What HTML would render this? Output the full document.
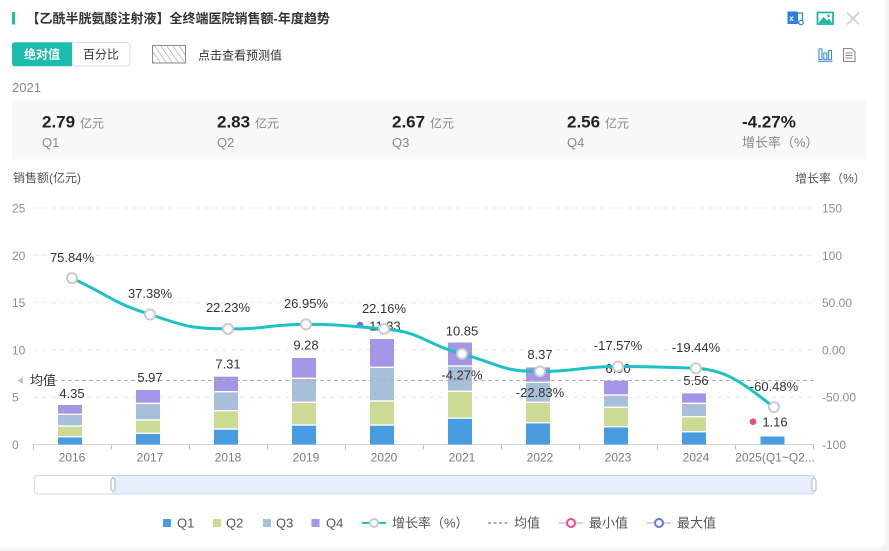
<!DOCTYPE html>
<html><head><meta charset="utf-8"><style>
html,body{margin:0;padding:0;background:#f4f4f5;}
svg{display:block;}
text{font-family:"Liberation Sans","Noto Sans CJK SC",sans-serif;}
</style></head><body>
<svg width="889" height="551" viewBox="0 0 889 551" xmlns="http://www.w3.org/2000/svg">
<defs>
<pattern id="hatch" width="5" height="5" patternUnits="userSpaceOnUse" patternTransform="rotate(-35)">
<line x1="0" y1="0" x2="0" y2="5" stroke="#999" stroke-width="1.2"/>
</pattern>
</defs>
<rect x="0" y="0" width="889" height="551" fill="#f4f4f5"/>
<path d="M0,0 H885 V540 Q885,548 877,548 H0 Z" fill="#fff"/>

<!-- header -->
<rect x="12" y="12" width="3.2" height="12.5" fill="#1ebcad"/>
<text x="26.5" y="23" font-size="13" font-weight="bold" fill="#333">【乙酰半胱氨酸注射液】全终端医院销售额-年度趋势</text>

<!-- top right icons -->
<rect x="787.5" y="11.5" width="10" height="12.5" fill="#2f7fd8"/>
<text x="789.2" y="21" font-size="8" font-weight="bold" fill="#fff">x</text>
<rect x="797.5" y="13" width="5" height="10" fill="none" stroke="#2f7fd8" stroke-width="1.2"/>
<circle cx="801" cy="22.5" r="2.2" fill="#fff" stroke="#2f7fd8" stroke-width="1.2"/>
<rect x="817.5" y="12.5" width="15.5" height="11.5" fill="#fff" stroke="#1cb7a9" stroke-width="1.8"/>
<polygon points="818.5,23 823.5,17 827,20.5 829,18.5 832,23" fill="#1cb7a9"/>
<circle cx="828.5" cy="15.8" r="1.3" fill="#1cb7a9"/>
<line x1="847" y1="12.5" x2="859" y2="24.5" stroke="#cfcfcf" stroke-width="1.6"/>
<line x1="859" y1="12.5" x2="847" y2="24.5" stroke="#cfcfcf" stroke-width="1.6"/>

<rect x="819" y="49" width="3" height="10.5" fill="none" stroke="#3b8fe4" stroke-width="1.1"/>
<rect x="823.8" y="53" width="3" height="6.5" fill="none" stroke="#3b8fe4" stroke-width="1.1"/>
<rect x="828.5" y="50.5" width="3" height="9" fill="none" stroke="#3b8fe4" stroke-width="1.1"/>
<line x1="818" y1="61.3" x2="832.5" y2="61.3" stroke="#3b8fe4" stroke-width="1.1"/>
<path d="M843.5,48.5 H851.5 L855,52 V61.5 H843.5 Z" fill="none" stroke="#888" stroke-width="1.1"/>
<line x1="845.5" y1="53" x2="852.5" y2="53" stroke="#888" stroke-width="1"/>
<line x1="845.5" y1="55.5" x2="852.5" y2="55.5" stroke="#888" stroke-width="1"/>
<line x1="845.5" y1="58" x2="852.5" y2="58" stroke="#888" stroke-width="1"/>

<!-- toggle buttons -->
<rect x="72" y="42.5" width="58" height="23.5" rx="3" fill="#fff" stroke="#dcdcdc" stroke-width="1"/>
<path d="M15,42.3 H72 V66.2 H15 Q12,66.2 12,63.2 V45.3 Q12,42.3 15,42.3 Z" fill="#1ebcad"/>
<text x="42" y="58.5" font-size="12" font-weight="bold" fill="#fff" text-anchor="middle">绝对值</text>
<text x="101" y="58.5" font-size="12" fill="#333" text-anchor="middle">百分比</text>
<rect x="152.5" y="45.5" width="33" height="17.5" fill="url(#hatch)" stroke="#8a8a8a" stroke-width="1"/>
<text x="198" y="59.5" font-size="12" fill="#333">点击查看预测值</text>

<text x="12" y="92" font-size="13" fill="#888">2021</text>

<!-- summary box -->
<rect x="12" y="100" width="854" height="59.5" fill="#f8f8f8"/>
<g font-size="17" font-weight="bold" fill="#222">
<text x="42" y="127.5">2.79</text>
<text x="217" y="127.5">2.83</text>
<text x="392" y="127.5">2.67</text>
<text x="567" y="127.5">2.56</text>
<text x="742" y="127.5">-4.27%</text>
</g>
<g font-size="12" fill="#888">
<text x="80" y="127.5">亿元</text>
<text x="255" y="127.5">亿元</text>
<text x="430" y="127.5">亿元</text>
<text x="605" y="127.5">亿元</text>
</g>
<g font-size="13" fill="#888">
<text x="42" y="147">Q1</text>
<text x="217" y="147">Q2</text>
<text x="392" y="147">Q3</text>
<text x="567" y="147">Q4</text>
<text x="742" y="147">增长率（%）</text>
</g>

<!-- axis names -->
<text x="13" y="182" font-size="12" fill="#555">销售额(亿元)</text>
<text x="795" y="182.5" font-size="12" fill="#555">增长率（%）</text>

<!-- grid -->
<g stroke="#e3e9ee" stroke-width="1" stroke-dasharray="5,4">
<line x1="33" y1="208" x2="813" y2="208"/>
<line x1="33" y1="255.3" x2="813" y2="255.3"/>
<line x1="33" y1="302.6" x2="813" y2="302.6"/>
<line x1="33" y1="349.9" x2="813" y2="349.9"/>
<line x1="33" y1="397.2" x2="813" y2="397.2"/>
</g>
<g font-size="12" fill="#8e8e8e">
<text x="12" y="212.5">25</text>
<text x="12" y="259.8">20</text>
<text x="12" y="307">15</text>
<text x="12" y="354.3">10</text>
<text x="12" y="401.6">5</text>
<text x="12" y="449">0</text>
<text x="822" y="212.5">150</text>
<text x="822" y="259.8">100</text>
<text x="822" y="307">50.00</text>
<text x="822" y="354.3">0.00</text>
<text x="822" y="401.6">-50.00</text>
<text x="822" y="449">-100</text>
</g>

<!-- x axis -->
<line x1="33" y1="444.5" x2="813" y2="444.5" stroke="#cfd6dc" stroke-width="1"/>
<g stroke="#b8c0c8" stroke-width="1">
<line x1="33.5" y1="444.5" x2="33.5" y2="449.5"/><line x1="111.5" y1="444.5" x2="111.5" y2="449.5"/>
<line x1="189.5" y1="444.5" x2="189.5" y2="449.5"/><line x1="267.5" y1="444.5" x2="267.5" y2="449.5"/>
<line x1="345.5" y1="444.5" x2="345.5" y2="449.5"/><line x1="423.5" y1="444.5" x2="423.5" y2="449.5"/>
<line x1="501.5" y1="444.5" x2="501.5" y2="449.5"/><line x1="579.5" y1="444.5" x2="579.5" y2="449.5"/>
<line x1="657.5" y1="444.5" x2="657.5" y2="449.5"/><line x1="735.5" y1="444.5" x2="735.5" y2="449.5"/>
<line x1="813.5" y1="444.5" x2="813.5" y2="449.5"/>
</g>
<g font-size="12" fill="#7a7a7a" text-anchor="middle">
<text x="72" y="461.5">2016</text><text x="150" y="461.5">2017</text><text x="228" y="461.5">2018</text>
<text x="306" y="461.5">2019</text><text x="384" y="461.5">2020</text><text x="462" y="461.5">2021</text>
<text x="540" y="461.5">2022</text><text x="618" y="461.5">2023</text><text x="696" y="461.5">2024</text>
<text x="775" y="461.5">2025(Q1~Q2...</text>
</g>

<!-- bars -->
<g>
<rect x="58" y="437.4" width="24" height="7.1" fill="#4a9ce0"/>
<rect x="58" y="426.7" width="24" height="9.3" fill="#cdda94"/>
<rect x="58" y="415" width="24" height="10.3" fill="#a7bfd9"/>
<rect x="58" y="405" width="24" height="8.6" fill="#a595e6"/>
<rect x="136" y="434" width="24" height="10.5" fill="#4a9ce0"/>
<rect x="136" y="420.7" width="24" height="11.9" fill="#cdda94"/>
<rect x="136" y="404" width="24" height="15.3" fill="#a7bfd9"/>
<rect x="136" y="390" width="24" height="12.6" fill="#a595e6"/>
<rect x="214" y="429.7" width="24" height="14.8" fill="#4a9ce0"/>
<rect x="214" y="411.4" width="24" height="16.9" fill="#cdda94"/>
<rect x="214" y="392.4" width="24" height="17.6" fill="#a7bfd9"/>
<rect x="214" y="376.7" width="24" height="14.3" fill="#a595e6"/>
<rect x="292" y="425.7" width="24" height="18.8" fill="#4a9ce0"/>
<rect x="292" y="403" width="24" height="21.3" fill="#cdda94"/>
<rect x="292" y="379" width="24" height="22.6" fill="#a7bfd9"/>
<rect x="292" y="358" width="24" height="19.6" fill="#a595e6"/>
<rect x="370" y="425.7" width="24" height="18.8" fill="#4a9ce0"/>
<rect x="370" y="401.7" width="24" height="22.6" fill="#cdda94"/>
<rect x="370" y="368" width="24" height="32.3" fill="#a7bfd9"/>
<rect x="370" y="339" width="24" height="27.6" fill="#a595e6"/>
<rect x="448" y="418.8" width="24" height="25.7" fill="#4a9ce0"/>
<rect x="448" y="392" width="24" height="25.4" fill="#cdda94"/>
<rect x="448" y="366.7" width="24" height="23.9" fill="#a7bfd9"/>
<rect x="448" y="342.5" width="24" height="22.8" fill="#a595e6"/>
<rect x="526" y="423.4" width="24" height="21.1" fill="#4a9ce0"/>
<rect x="526" y="403" width="24" height="19" fill="#cdda94"/>
<rect x="526" y="383" width="24" height="18.6" fill="#a7bfd9"/>
<rect x="526" y="367.4" width="24" height="14.2" fill="#a595e6"/>
<rect x="604" y="427.4" width="24" height="17.1" fill="#4a9ce0"/>
<rect x="604" y="408" width="24" height="18" fill="#cdda94"/>
<rect x="604" y="395.7" width="24" height="10.9" fill="#a7bfd9"/>
<rect x="604" y="380.7" width="24" height="13.6" fill="#a595e6"/>
<rect x="682" y="432.4" width="24" height="12.1" fill="#4a9ce0"/>
<rect x="682" y="417.4" width="24" height="13.6" fill="#cdda94"/>
<rect x="682" y="404" width="24" height="12" fill="#a7bfd9"/>
<rect x="682" y="393.4" width="24" height="9.2" fill="#a595e6"/>
<rect x="760.5" y="436.5" width="24" height="8" fill="#4a9ce0"/>
</g>

<!-- average line -->
<line x1="33" y1="380.5" x2="813" y2="380.5" stroke="#b0b0b0" stroke-width="1" stroke-dasharray="4,3"/>
<polygon points="17,380.5 23,377.3 23,383.7" fill="#c4c4c4"/>
<text x="30" y="385" font-size="13" fill="#333">均值</text>

<!-- bar total labels -->
<g font-size="13" fill="#333" text-anchor="middle">
<text x="72" y="398">4.35</text>
<text x="150" y="382">5.97</text>
<text x="228" y="368.5">7.31</text>
<text x="306" y="349.5">9.28</text>
<text x="385" y="330.5">11.33</text>
<text x="462" y="335.5">10.85</text>
<text x="540" y="359">8.37</text>
<text x="618" y="373">6.90</text>
<text x="696" y="385">5.56</text>
<text x="775" y="426.5">1.16</text>
</g>
<circle cx="360" cy="325" r="3.3" fill="#6b71ea"/>
<circle cx="753" cy="421.7" r="3.3" fill="#f0468a"/>

<!-- growth line -->
<path d="M72,278.1 C111,296.3 109.4,301.3 150,314.5 C187.4,326.7 189,328.5 228,328.9 C267,329.3 267,324.4 306,324.4 C345,324.4 345,326 384,328.9 C424,332.5 422.5,343.1 462,353.9 C500.5,364.4 500.5,371.5 540,371.5 C578.5,371.5 579,366.5 618,366.5 C657,366.5 657,366.8 696,368.3 C730,370 748,388 774,407.1" fill="none" stroke="#1fc2c2" stroke-width="3"/>
<g fill="#fff" stroke="#cbcbcb" stroke-width="2">
<circle cx="72" cy="278.1" r="5"/><circle cx="150" cy="314.5" r="5"/><circle cx="228" cy="328.9" r="5"/>
<circle cx="306" cy="324.4" r="5"/><circle cx="384" cy="328.9" r="5"/><circle cx="462" cy="353.9" r="5"/>
<circle cx="540" cy="371.5" r="5"/><circle cx="618" cy="366.5" r="5"/><circle cx="696" cy="368.3" r="5"/>
<circle cx="774" cy="407.1" r="5"/>
</g>

<!-- growth labels -->
<g font-size="13" fill="#333" text-anchor="middle">
<text x="72" y="261.8">75.84%</text>
<text x="150" y="297.8">37.38%</text>
<text x="228" y="312.2">22.23%</text>
<text x="306" y="307.8">26.95%</text>
<text x="384" y="312.8">22.16%</text>
<text x="462" y="379.5">-4.27%</text>
<text x="540" y="396.8">-22.83%</text>
<text x="618" y="350.2">-17.57%</text>
<text x="696" y="352.2">-19.44%</text>
<text x="774" y="391.2">-60.48%</text>
</g>

<!-- data zoom slider -->
<rect x="113" y="475.5" width="701.5" height="18.5" fill="#e6edfb"/>
<rect x="34.5" y="475.5" width="780" height="18.5" rx="3" fill="none" stroke="#d0d8ea" stroke-width="1"/>
<line x1="113" y1="475.5" x2="113" y2="494" stroke="#c9d2e6" stroke-width="1"/>
<rect x="111" y="478.5" width="4" height="12.5" rx="2" fill="#fff" stroke="#a9b4cc" stroke-width="1"/>
<rect x="812" y="478.5" width="4" height="12.5" rx="2" fill="#fff" stroke="#a9b4cc" stroke-width="1"/>

<!-- legend -->
<g font-size="13" fill="#555">
<rect x="163" y="519" width="8" height="8" fill="#4a9ce0"/><text x="177" y="527.5">Q1</text>
<rect x="213" y="519" width="8" height="8" fill="#cdda94"/><text x="226" y="527.5">Q2</text>
<rect x="263" y="519" width="8" height="8" fill="#a7bfd9"/><text x="276" y="527.5">Q3</text>
<rect x="311.5" y="519" width="8" height="8" fill="#a595e6"/><text x="326" y="527.5">Q4</text>
<line x1="362" y1="523" x2="386" y2="523" stroke="#1fc2c2" stroke-width="2"/>
<circle cx="374" cy="523" r="4" fill="#fff" stroke="#cbcbcb" stroke-width="2"/>
<text x="392" y="527.5">增长率（%）</text>
<line x1="488" y1="523" x2="508" y2="523" stroke="#999" stroke-width="1.5" stroke-dasharray="3,2.5"/>
<text x="514" y="527.5">均值</text>
<line x1="559" y1="523" x2="583" y2="523" stroke="#ccc" stroke-width="1.5"/>
<circle cx="571" cy="523" r="4" fill="#fff" stroke="#f0468a" stroke-width="2"/>
<text x="589" y="527.5">最小值</text>
<line x1="647" y1="523" x2="671" y2="523" stroke="#ccc" stroke-width="1.5"/>
<circle cx="659" cy="523" r="4" fill="#fff" stroke="#6b71ea" stroke-width="2"/>
<text x="677" y="527.5">最大值</text>
</g>
</svg>
</body></html>
